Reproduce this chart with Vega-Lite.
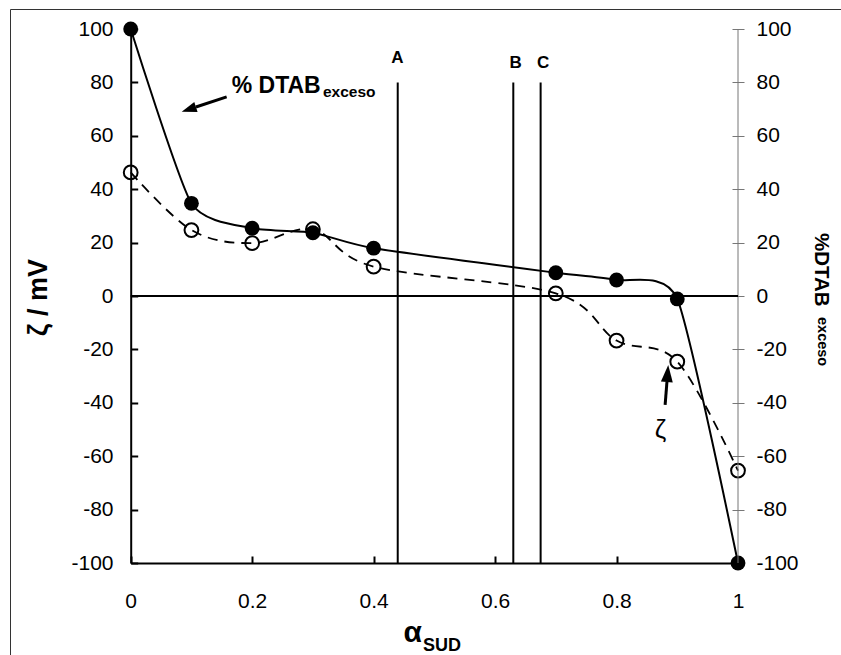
{
  "$schema": "https://vega.github.io/schema/vega-lite/v6.json",
  "autosize": {"type": "none"},
  "padding": {"left": 10, "top": 9, "right": 0, "bottom": 0},
  "width": 831,
  "height": 646,
  "background": "white",
  "config": {
    "view": {"stroke": "#333", "strokeWidth": 1},
    "font": "Liberation Sans",
    "axis": {"grid": false, "labelFont": "Liberation Sans", "titleFont": "Liberation Sans", "labelColor": "black", "titleColor": "black", "labelFlush": false, "labelOverlap": false}
  },
  "datasets": {
    "series": [
      {"s": "DTAB", "x": 0, "y": 100},
      {"s": "DTAB", "x": 0.1, "y": 34.7},
      {"s": "DTAB", "x": 0.2, "y": 25.4},
      {"s": "DTAB", "x": 0.3, "y": 23.7},
      {"s": "DTAB", "x": 0.4, "y": 17.9},
      {"s": "DTAB", "x": 0.7, "y": 8.7},
      {"s": "DTAB", "x": 0.8, "y": 6.0},
      {"s": "DTAB", "x": 0.9, "y": -1.1},
      {"s": "DTAB", "x": 1, "y": -100},
      {"s": "zeta", "x": 0, "y": 46.3},
      {"s": "zeta", "x": 0.1, "y": 24.7},
      {"s": "zeta", "x": 0.2, "y": 19.8},
      {"s": "zeta", "x": 0.3, "y": 25},
      {"s": "zeta", "x": 0.4, "y": 11},
      {"s": "zeta", "x": 0.7, "y": 1.0},
      {"s": "zeta", "x": 0.8, "y": -16.7},
      {"s": "zeta", "x": 0.9, "y": -24.6},
      {"s": "zeta", "x": 1, "y": -65.4}
    ],
    "vlines": [
      {"t": "A", "x": 0.4397, "y": 80, "y2": -100},
      {"t": "B", "x": 0.630, "y": 80, "y2": -100},
      {"t": "C", "x": 0.675, "y": 80, "y2": -100}
    ],
    "abc": [
      {"t": "A", "x": 0.4393, "y": 89.3},
      {"t": "B", "x": 0.634, "y": 87.3},
      {"t": "C", "x": 0.679, "y": 87.3}
    ],
    "notes": [
      {"k": "main", "t": "% DTAB", "x": 0.1663, "y": 75.9},
      {"k": "sub", "t": "exceso", "x": 0.3165, "y": 74.5},
      {"k": "zeta", "t": "ζ", "x": 0.8723, "y": -50.2}
    ],
    "shafts": [
      {"a": "DTAB", "x": 0.158, "y": 74.6, "x2": 0.1074, "y2": 70.8},
      {"a": "zeta", "x": 0.880, "y": -40.8, "x2": 0.883, "y2": -32.2}
    ],
    "heads": [
      {"a": "DTAB", "x": 0.0957, "y": 69.9},
      {"a": "zeta", "x": 0.884, "y": -29.0}
    ],
    "rightline": [{"x": 1, "y": -100, "y2": 100}],
    "hline": [{"x": 0, "x2": 1, "y": 0}]
  },
  "layer": [
    {
      "encoding": {
        "x": {"field": "x", "type": "quantitative",
          "scale": {"domain": [0, 1], "range": [120.7, 728], "nice": false, "zero": false},
          "axis": {"orient": "bottom", "offset": -92, "values": [0, 0.2, 0.4, 0.6, 0.8, 1], "format": "~g",
            "domainColor": "black", "domainWidth": 2, "tickColor": "black", "tickWidth": 2, "tickSize": -7,
            "labelFontSize": 21, "labelPadding": 34.4,
            "title": "α", "titleFontSize": 30, "titleFontWeight": "bold", "titleAlign": "right", "titleBaseline": "alphabetic",
            "titleX": 411.5, "titleY": 78.5}},
        "y": {"field": "y", "type": "quantitative",
          "scale": {"domain": [-100, 100], "range": [554, 20], "nice": false, "zero": false},
          "axis": {"orient": "left", "offset": -120.7, "values": [-100, -80, -60, -40, -20, 0, 20, 40, 60, 80, 100],
            "labelExpr": "toString(datum.value)",
            "domainColor": "black", "domainWidth": 2, "tickColor": "black", "tickWidth": 2, "tickSize": -7,
            "labelFontSize": 21, "labelPadding": 24.7,
            "title": "ζ  / mV", "titleFontSize": 27, "titleFontWeight": "bold", "titleAngle": -90, "titleAlign": "center", "titleBaseline": "alphabetic",
            "titleX": -84.2, "titleY": 288}}
      },
      "layer": [
        {"data": {"name": "vlines"}, "mark": {"type": "rule", "strokeWidth": 2, "color": "black"}, "encoding": {"y2": {"field": "y2"}}},
        {"data": {"name": "series"}, "transform": [{"filter": "datum.s === 'zeta'"}],
          "mark": {"type": "line", "interpolate": "cardinal", "tension": 0, "strokeDash": [10, 7], "strokeWidth": 1.8, "color": "black"}},
        {"data": {"name": "series"}, "transform": [{"filter": "datum.s === 'zeta'"}],
          "mark": {"type": "point", "shape": "circle", "filled": false, "size": 190, "strokeWidth": 2, "color": "black", "opacity": 1}},
        {"data": {"name": "series"}, "transform": [{"filter": "datum.s === 'DTAB'"}],
          "mark": {"type": "line", "interpolate": "cardinal", "tension": 0.4, "strokeWidth": 2, "color": "black"}},
        {"data": {"name": "series"}, "transform": [{"filter": "datum.s === 'DTAB'"}],
          "mark": {"type": "circle", "size": 220, "color": "black", "opacity": 1}},
        {"data": {"name": "abc"}, "mark": {"type": "text", "fontSize": 17, "fontWeight": "bold", "align": "center", "baseline": "middle", "color": "black"},
          "encoding": {"text": {"field": "t"}}},
        {"data": {"name": "notes"}, "transform": [{"filter": "datum.k === 'main'"}],
          "mark": {"type": "text", "fontSize": 23, "fontWeight": "bold", "align": "left", "baseline": "alphabetic", "color": "black"},
          "encoding": {"text": {"field": "t"}}},
        {"data": {"name": "notes"}, "transform": [{"filter": "datum.k === 'sub'"}],
          "mark": {"type": "text", "fontSize": 15.5, "fontWeight": "bold", "align": "left", "baseline": "alphabetic", "color": "black"},
          "encoding": {"text": {"field": "t"}}},
        {"data": {"name": "notes"}, "transform": [{"filter": "datum.k === 'zeta'"}],
          "mark": {"type": "text", "fontSize": 26, "align": "center", "baseline": "middle", "color": "black"},
          "encoding": {"text": {"field": "t"}}},
        {"data": {"name": "shafts"}, "mark": {"type": "rule", "strokeWidth": 3, "color": "black"},
          "encoding": {"x2": {"field": "x2"}, "y2": {"field": "y2"}}},
        {"data": {"name": "heads"}, "transform": [{"filter": "datum.a === 'DTAB'"}],
          "mark": {"type": "point", "shape": "M0,-1L-0.7,1L0.7,1Z", "filled": true, "size": 225, "angle": 251.6, "color": "black", "opacity": 1, "strokeWidth": 0}},
        {"data": {"name": "heads"}, "transform": [{"filter": "datum.a === 'zeta'"}],
          "mark": {"type": "point", "shape": "M0,-1L-0.7,1L0.7,1Z", "filled": true, "size": 289, "angle": 4.7, "color": "black", "opacity": 1, "strokeWidth": 0}}
      ]
    },
    {
      "data": {"name": "rightline"},
      "mark": {"type": "rule", "strokeWidth": 1, "color": "#777"},
      "encoding": {
        "x": {"field": "x", "type": "quantitative",
          "scale": {"domain": [0, 1], "range": [120.7, 728], "nice": false, "zero": false},
          "axis": {"orient": "bottom", "offset": -92, "domain": false, "ticks": false, "labels": false,
            "title": "SUD", "titleFontSize": 18, "titleFontWeight": "bold", "titleAlign": "left", "titleBaseline": "alphabetic",
            "titleX": 412.5, "titleY": 87.5}},
        "y": {"field": "y", "type": "quantitative",
          "scale": {"domain": [-100, 100], "range": [554, 20], "nice": false, "zero": false},
          "axis": {"orient": "right", "offset": -109, "domain": false, "values": [-100, -80, -60, -40, -20, 0, 20, 40, 60, 80, 100],
            "labelExpr": "toString(datum.value)",
            "tickColor": "#777", "tickWidth": 1, "tickSize": 12, "labelFontSize": 21, "labelPadding": 12,
            "title": "%DTAB", "titleFontSize": 20.5, "titleFontWeight": "bold", "titleAngle": 90, "titleAlign": "left", "titleBaseline": "alphabetic",
            "titleX": 82.5, "titleY": 223.5}},
        "y2": {"field": "y2"}
      }
    },
    {
      "data": {"name": "hline"},
      "mark": {"type": "rule", "strokeWidth": 2, "color": "black"},
      "encoding": {
        "x": {"field": "x", "type": "quantitative",
          "scale": {"domain": [0, 1], "range": [120.7, 728], "nice": false, "zero": false}, "axis": null},
        "x2": {"field": "x2"},
        "y": {"field": "y", "type": "quantitative",
          "scale": {"domain": [-100, 100], "range": [554, 20], "nice": false, "zero": false},
          "axis": {"orient": "right", "offset": -109, "domain": false, "ticks": false, "labels": false,
            "title": "exceso", "titleFontSize": 14.5, "titleFontWeight": "bold", "titleAngle": 90, "titleAlign": "left", "titleBaseline": "alphabetic",
            "titleX": 85.5, "titleY": 307.5}}
      }
    }
  ],
  "resolve": {"scale": {"x": "independent", "y": "independent"}}
}
